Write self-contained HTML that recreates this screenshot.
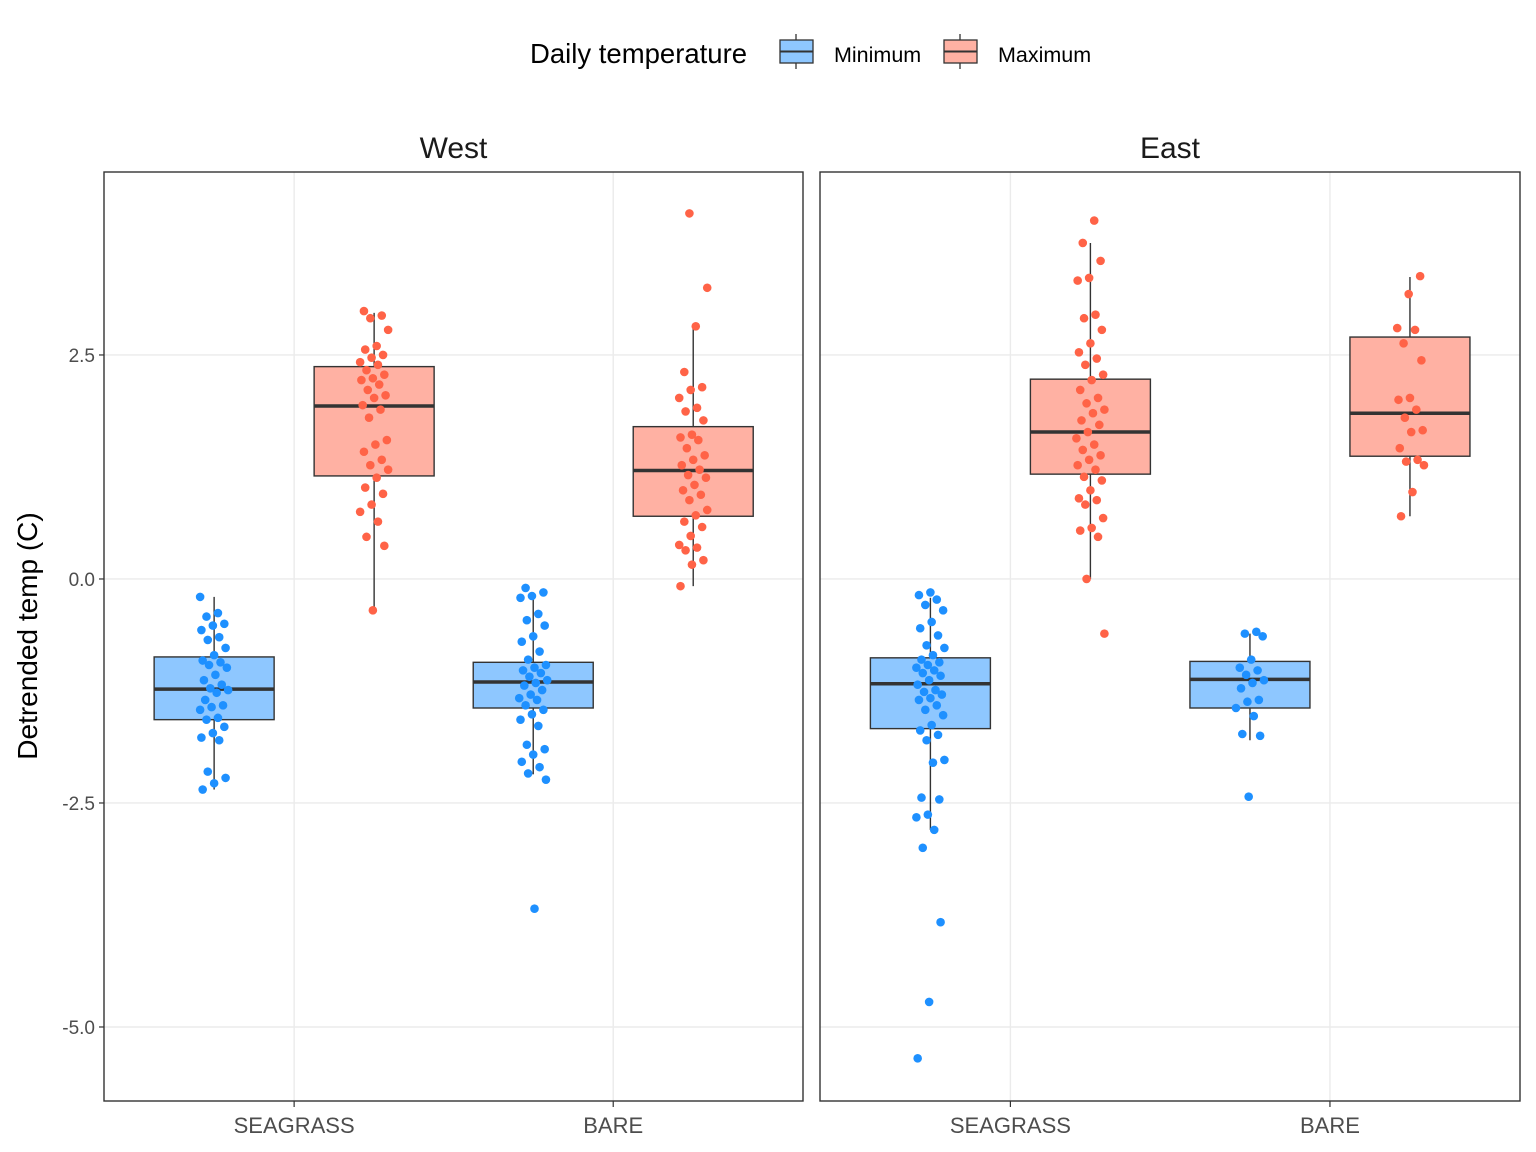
<!DOCTYPE html>
<html><head><meta charset="utf-8"><style>
body{margin:0;background:#fff;}
svg{display:block;font-family:"Liberation Sans",Arial,sans-serif;}
</style></head><body>
<svg id="chart" width="1536" height="1152" viewBox="0 0 1536 1152"></svg>
<script>
const panels = ["West","East"];
const habitats = ["SEAGRASS","BARE"];
const yTicks = [2.5,0.0,-2.5,-5.0];
const yTickLabels = ["2.5","0.0","-2.5","-5.0"];
const westSeagrassMin = [-0.20,-0.38,-0.42,-0.50,-0.52,-0.57,-0.65,-0.68,-0.77,-0.85,-0.91,-0.93,-0.96,-0.99,-1.07,-1.13,-1.18,-1.22,-1.24,-1.27,-1.35,-1.41,-1.43,-1.46,-1.55,-1.57,-1.65,-1.72,-1.77,-1.80,-2.15,-2.22,-2.28,-2.35];
const westSeagrassMax = [2.99,2.94,2.91,2.78,2.60,2.56,2.50,2.47,2.42,2.39,2.33,2.28,2.24,2.22,2.17,2.11,2.05,2.02,1.94,1.89,1.80,1.55,1.50,1.42,1.33,1.27,1.22,1.13,1.02,0.95,0.83,0.75,0.64,0.47,0.37,-0.35];
const westBareMin = [-0.10,-0.15,-0.19,-0.21,-0.39,-0.46,-0.52,-0.64,-0.70,-0.81,-0.90,-0.96,-0.99,-1.02,-1.05,-1.09,-1.13,-1.16,-1.19,-1.24,-1.29,-1.33,-1.35,-1.41,-1.46,-1.51,-1.57,-1.64,-1.85,-1.90,-1.96,-2.04,-2.10,-2.17,-2.24,-3.68];
const westBareMax = [4.08,3.25,2.82,2.31,2.14,2.11,2.02,1.91,1.87,1.77,1.61,1.58,1.55,1.46,1.38,1.33,1.27,1.22,1.16,1.13,1.05,0.99,0.94,0.88,0.77,0.71,0.64,0.58,0.48,0.38,0.35,0.32,0.21,0.16,-0.08];
const eastSeagrassMin = [-0.15,-0.18,-0.23,-0.29,-0.35,-0.48,-0.55,-0.63,-0.74,-0.77,-0.85,-0.90,-0.93,-0.96,-0.99,-1.02,-1.05,-1.08,-1.13,-1.18,-1.24,-1.26,-1.29,-1.33,-1.35,-1.41,-1.46,-1.52,-1.63,-1.69,-1.74,-1.80,-2.02,-2.05,-2.44,-2.46,-2.63,-2.66,-2.80,-3.00,-3.83,-4.72,-5.35];
const eastSeagrassMax = [4.00,3.75,3.55,3.36,3.33,2.95,2.91,2.78,2.63,2.53,2.46,2.39,2.28,2.22,2.11,2.02,1.96,1.89,1.85,1.77,1.72,1.64,1.57,1.50,1.44,1.38,1.33,1.27,1.22,1.14,1.10,0.99,0.90,0.88,0.83,0.68,0.57,0.54,0.47,0.00,-0.61];
const eastBareMin = [-0.59,-0.61,-0.64,-0.90,-0.99,-1.02,-1.07,-1.13,-1.16,-1.22,-1.35,-1.37,-1.44,-1.53,-1.73,-1.75,-2.43];
const eastBareMax = [3.38,3.18,2.80,2.78,2.63,2.44,2.02,2.00,1.89,1.80,1.66,1.64,1.46,1.33,1.31,1.27,0.97,0.70];
// box statistics per group (order: WS-min, WS-max, WB-min, WB-max, ES-min, ES-max, EB-min, EB-max)
const boxQ1 = [-1.57,1.15,-1.44,0.70,-1.67,1.17,-1.44,1.37];
const boxMedian = [-1.23,1.93,-1.15,1.21,-1.17,1.64,-1.12,1.85];
const boxQ3 = [-0.87,2.37,-0.93,1.70,-0.88,2.23,-0.92,2.70];
const whiskerLow = [-2.35,-0.35,-2.18,-0.08,-2.80,0.00,-1.80,0.70];
const whiskerHigh = [-0.20,2.97,-0.15,2.83,-0.21,3.75,-0.61,3.37];

const NS="http://www.w3.org/2000/svg";
const svg=document.getElementById('chart');
function mk(tag,attrs,parent){const e=document.createElementNS(NS,tag);for(const k in attrs)e.setAttribute(k,attrs[k]);(parent||svg).appendChild(e);return e;}
const yTop=4.542, yBot=-5.826, pTop=172, pBot=1101;
function y(v){return pTop+(yTop-v)/(yTop-yBot)*(pBot-pTop);}
const panelX=[[104,803],[820,1520]];
function xCat(p,i){const [a,b]=panelX[p];const w=b-a;return a+w*(0.272+i*0.4565);}

const groups=[
 [0,0,0,westSeagrassMin],[0,0,1,westSeagrassMax],[0,1,0,westBareMin],[0,1,1,westBareMax],
 [1,0,0,eastSeagrassMin],[1,0,1,eastSeagrassMax],[1,1,0,eastBareMin],[1,1,1,eastBareMax]];
const fills=["#8EC7FF","#FFB1A3"], ptCol=["#1E90FF","#FF6347"];

const lt=mk('text',{x:530,y:63,'font-size':27.5,fill:'#000'});lt.textContent='Daily temperature';


const legendNames=["Minimum","Maximum"];
[[779,834],[943,998]].forEach((pos,i)=>{
 const g=mk('g',{});
 
 
 mk('line',{x1:pos[0]+17,x2:pos[0]+17,y1:34,y2:69,stroke:'#333','stroke-width':1.3},g);
 mk('rect',{x:pos[0]+1,y:40,width:33,height:23,fill:fills[i],stroke:'#333','stroke-width':1.3},g);
 mk('line',{x1:pos[0]+1,x2:pos[0]+34,y1:51.5,y2:51.5,stroke:'#333','stroke-width':2},g);
 const t=mk('text',{x:pos[1],y:62,'font-size':21.5,fill:'#000'},g);t.textContent=legendNames[i];
});

panels.forEach((name,p)=>{
 const [a,b]=panelX[p];
 const g=mk('g',{});
 
 
 const st=mk('text',{x:(a+b)/2,y:158,'font-size':30,'text-anchor':'middle',fill:'#1a1a1a'},g);st.textContent=name;
 yTicks.forEach((t,i)=>{
  mk('line',{x1:a,x2:b,y1:y(t),y2:y(t),stroke:'#ebebeb','stroke-width':1.4},g);
  if(p===0){mk('line',{x1:a-5,x2:a,y1:y(t),y2:y(t),stroke:'#333','stroke-width':1.2},g);
   const tl=mk('text',{x:a-9,y:y(t)+7,'font-size':19,'text-anchor':'end',fill:'#4d4d4d'},g);tl.textContent=yTickLabels[i];}
 });
 habitats.forEach((h,i)=>{
  const x=xCat(p,i);
  mk('line',{x1:x,x2:x,y1:pTop,y2:pBot,stroke:'#ebebeb','stroke-width':1.4},g);
  mk('line',{x1:x,x2:x,y1:pBot,y2:pBot+6,stroke:'#333','stroke-width':1.2},g);
  const xl=mk('text',{x:x,y:1133,'font-size':22,'text-anchor':'middle',fill:'#4d4d4d'},g);xl.textContent=h;
 });
});

groups.forEach(([p,h,t,data],gi)=>{
 const cx=xCat(p,h)+(t?80:-80);
 const g=mk('g',{});
 
 
 const q1=boxQ1[gi],q3=boxQ3[gi],med=boxMedian[gi],lo=whiskerLow[gi],hi=whiskerHigh[gi];
 mk('line',{x1:cx,x2:cx,y1:y(hi),y2:y(q3),stroke:'#333','stroke-width':1.4},g);
 mk('line',{x1:cx,x2:cx,y1:y(q1),y2:y(lo),stroke:'#333','stroke-width':1.4},g);
 mk('rect',{x:cx-60,y:y(q3),width:120,height:y(q1)-y(q3),fill:fills[t],stroke:'#333','stroke-width':1.4},g);
 mk('line',{x1:cx-60,x2:cx+60,y1:y(med),y2:y(med),stroke:'#333','stroke-width':3.5},g);
 data.forEach((v,i)=>{
  const j=(((i*37+p*11+h*5+t*3)%23)/22-0.5)*28;
  const c=mk('circle',{cx:cx+j,cy:y(v),r:4.3,fill:ptCol[t]},g);
  
  
 });
});

panelX.forEach(([a,b],p)=>{
 const r=mk('rect',{x:a,y:pTop,width:b-a,height:pBot-pTop,fill:'none',stroke:'#333','stroke-width':1.4});
 
 
});
const yl=mk('text',{x:0,y:0,'font-size':28,'text-anchor':'middle',fill:'#000',transform:'translate(37,636) rotate(-90)'});
yl.textContent='Detrended temp (C)';


</script>
</body></html>
